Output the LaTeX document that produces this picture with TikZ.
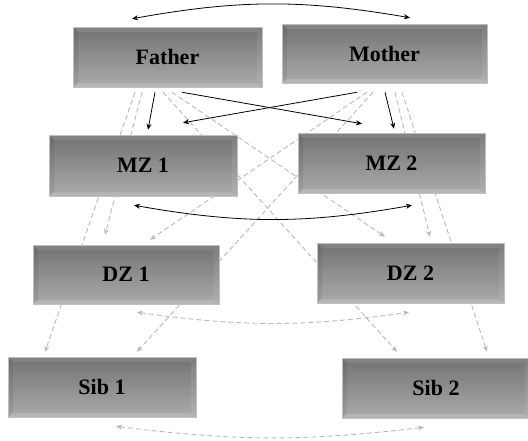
\documentclass[tikz,border=0pt]{standalone}
\usepackage{fontspec}
\setmainfont{Liberation Serif}
\usetikzlibrary{calc,backgrounds,arrows.meta}
\tikzset{
  box/.style={minimum width=188pt, minimum height=60pt, inner sep=0pt,
    top color=black!55, bottom color=black!33, draw=black!25, line width=0.5pt,
    font=\fontsize{22}{26}\selectfont\bfseries,
    path picture={
      \fill[white,opacity=0.10] (path picture bounding box.north west) -- (path picture bounding box.north east)
        -- ([shift={(-5pt,-5pt)}]path picture bounding box.north east) -- ([shift={(5pt,-5pt)}]path picture bounding box.north west) -- cycle;
      \fill[black,opacity=0.07] (path picture bounding box.north west) -- ([shift={(5pt,-5pt)}]path picture bounding box.north west)
        -- ([shift={(5pt,5pt)}]path picture bounding box.south west) -- (path picture bounding box.south west) -- cycle;
      \fill[white,opacity=0.08] (path picture bounding box.north east) -- ([shift={(-5pt,-5pt)}]path picture bounding box.north east)
        -- ([shift={(-5pt,5pt)}]path picture bounding box.south east) -- (path picture bounding box.south east) -- cycle;
      \fill[white,opacity=0.14] (path picture bounding box.south west) -- ([shift={(5pt,4pt)}]path picture bounding box.south west)
        -- ([shift={(-5pt,4pt)}]path picture bounding box.south east) -- (path picture bounding box.south east) -- cycle;
    }},
  solidarrow/.style={black, line width=0.8pt, -{Stealth[length=6pt,width=5pt,inset=1.8pt]}},
  solidboth/.style={black, line width=0.8pt, {Stealth[length=6pt,width=5pt,inset=1.8pt]}-{Stealth[length=6pt,width=5pt,inset=1.8pt]}},
  dasharrow/.style={black!28, line width=0.9pt, dash pattern=on 5pt off 3pt, -{Stealth[length=6pt,width=5pt,inset=1.8pt]}},
  dashboth/.style={black!28, line width=0.9pt, dash pattern=on 5pt off 3pt, {Stealth[length=6pt,width=5pt,inset=1.8pt]}-{Stealth[length=6pt,width=5pt,inset=1.8pt]}},
}
\begin{document}
\begin{tikzpicture}[x=1pt,y=-1pt]
\useasboundingbox (0,0) rectangle (528,440);
\node[box, minimum width=189pt] (F) at (167.5,57) {Father};
\node[box, minimum width=205pt, minimum height=59pt] (M) at (384.5,53.5) {Mother};
\node[box, minimum height=61pt] (MZ1) at (143,165.5) {MZ 1};
\node[box, minimum width=187pt] (MZ2) at (391.5,163) {MZ 2};
\node[box, minimum width=186pt, minimum height=59pt] (DZ1) at (126,274.5) {DZ 1};
\node[box, minimum width=187pt] (DZ2) at (410.5,273) {DZ 2};
\node[box] (S1) at (102,387) {Sib 1};
\node[box] (S2) at (436,388) {Sib 2};

\begin{pgfonlayer}{background}
% dashed connectors
\draw[dasharrow] ($(F.south)+(-32.5,5)$) -- ($(S1.north)+(-57,-5)$);
\draw[dasharrow] ($(F.south)+(-25.5,5)$) -- ($(DZ1.north)+(-21,-10)$);
\draw[dasharrow] ($(F.south)+(-4.5,5)$) -- ($(S2.north)+(-39,-6)$);
\draw[dasharrow] ($(F.south)+(4.5,5)$) -- ($(DZ2.north)+(-25.5,-6)$);
\draw[dasharrow] ($(M.south)+(-17.5,9)$) -- ($(DZ1.north)+(24,-5)$);
\draw[dasharrow] ($(M.south)+(-11.5,9)$) -- ($(S1.north)+(35,-5)$);
\draw[dasharrow] ($(M.south)+(10.5,9)$) -- ($(DZ2.north)+(19.5,-6)$);
\draw[dasharrow] ($(M.south)+(17.5,9)$) -- ($(S2.north)+(51,-6)$);
\draw[dashboth] ($(DZ1.south)+(11,8)$) to[bend right=8] ($(DZ2.south)+(-1.5,9)$);
\draw[dashboth] ($(S1.south)+(14,9)$) to[bend right=7] ($(S2.south)+(-12,9)$);
% solid connectors
\draw[solidarrow] ($(F.south)+(-12.5,5)$) -- ($(MZ1.north)+(5,-5)$);
\draw[solidarrow] ($(F.south)+(14.5,5)$) -- ($(MZ2.north)+(-29.5,-9)$);
\draw[solidarrow] ($(M.south)+(-27.5,9)$) -- ($(MZ1.north)+(40,-12)$);
\draw[solidarrow] ($(M.south)+(0.5,9)$) -- ($(MZ2.north)+(2.5,-4)$);
\draw[solidboth] ($(F.north)+(-35.5,-8)$) to[bend left=10] ($(M.north)+(25.5,-6)$);
\draw[solidboth] ($(MZ1.south)+(-9,9)$) to[bend right=10] ($(MZ2.south)+(20.5,12)$);
\end{pgfonlayer}
\end{tikzpicture}
\end{document}
